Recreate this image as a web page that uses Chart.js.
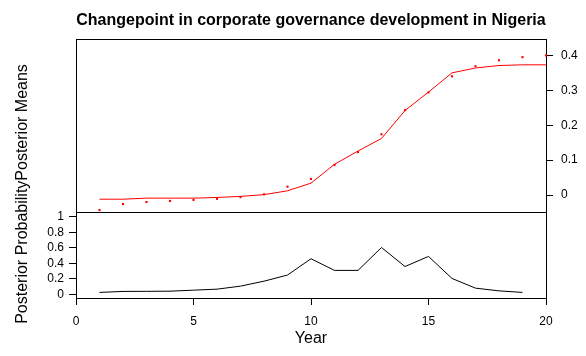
<!DOCTYPE html>
<html>
<head>
<meta charset="utf-8">
<script src="https://cdn.jsdelivr.net/npm/chart.js@4.4.1/dist/chart.umd.min.js"></script>
<style>
  html, body { margin: 0; padding: 0; background: #fff; }
  #wrap { position: relative; width: 586px; height: 356px; overflow: hidden; }
  canvas { position: absolute; left: 0; top: 0; }
  #ylab { position: absolute; width: 300px; height: 16px; line-height: 16px; left: -129.5px; top: 185.5px;
          transform: rotate(-90deg); text-align: center; font: 16px "Liberation Sans", Arial, sans-serif; color: #000; white-space: nowrap; }
</style>
</head>
<body>
<div id="wrap">
  <canvas id="low" width="586" height="356"></canvas>
  <canvas id="up" width="586" height="356"></canvas>
  <div id="ylab">Posterior ProbabilityPosterior Means</div>
</div>
<script>
const years = [1,2,3,4,5,6,7,8,9,10,11,12,13,14,15,16,17,18,19,20];
const observed = [-0.043,-0.026,-0.020,-0.017,-0.014,-0.011,-0.006,0.002,0.024,0.046,0.086,0.123,0.174,0.243,0.294,0.340,0.369,0.386,0.395,0.400];
const postMeans = [-0.012,-0.012,-0.009,-0.009,-0.009,-0.007,-0.004,0.001,0.012,0.034,0.088,0.126,0.162,0.242,0.295,0.350,0.364,0.371,0.373,0.373];
const probYears = [1,2,3,4,5,6,7,8,9,10,11,12,13,14,15,16,17,18,19];
const postProb = [0.026,0.039,0.040,0.042,0.055,0.068,0.107,0.171,0.250,0.460,0.310,0.310,0.605,0.360,0.490,0.206,0.081,0.046,0.026];
const xTicks = [0,5,10,15,20];
const xTickLabels = ['0','5','10','15','20'];
const meanTicks = [0,0.1,0.2,0.3,0.4];
const meanTickLabels = ['0','0.1','0.2','0.3','0.4'];
const probTicks = [0,0.2,0.4,0.6,0.8,1];
const probTickLabels = ['0','0.2','0.4','0.6','0.8','1'];

const FONT = '"Liberation Sans", Arial, sans-serif';
Chart.defaults.font.family = FONT;
Chart.defaults.color = '#000';

const boxPlugin = {
  id: 'box',
  beforeDatasetsDraw(chart) {
    const {ctx, chartArea: a} = chart;
    ctx.save();
    ctx.strokeStyle = '#000';
    ctx.lineWidth = 1;
    ctx.strokeRect(Math.round(a.left) + 0.5, Math.round(a.top) + 0.5,
                   Math.round(a.right - a.left), Math.round(a.bottom - a.top));
    ctx.restore();
  }
};

const pts = (xs, ys) => xs.map((x, i) => ({x, y: ys[i]}));
const tickGrid = { display: true, drawOnChartArea: false, drawTicks: true, tickLength: 7, color: '#000', lineWidth: 1 };
const labelFrom = (vals, labels) => (v) => { const i = vals.findIndex(t => Math.abs(t - v) < 1e-9); return i >= 0 ? labels[i] : ''; };

new Chart(document.getElementById('up'), {
  type: 'line',
  data: {
    datasets: [
      { data: pts(years, postMeans), borderColor: '#ff0000', borderWidth: 1, pointRadius: 0, tension: 0, fill: false },
      { data: pts(years, observed), showLine: false, pointStyle: 'rect', pointRadius: 1.5, pointBorderWidth: 0, clip: false,
        pointBackgroundColor: '#ff0000', borderColor: '#ff0000', backgroundColor: '#ff0000' }
    ]
  },
  options: {
    responsive: false, animation: false, devicePixelRatio: 1,
    layout: { padding: { left: 76, top: 0, right: 0, bottom: 144 } },
    plugins: {
      legend: { display: false }, tooltip: { enabled: false },
      title: { display: true, fullSize: false, text: 'Changepoint in corporate governance development in Nigeria',
               font: { size: 16, weight: 'bold', family: FONT, lineHeight: 1.2 }, color: '#000',
               padding: { top: 11.4, bottom: 8.4 } }
    },
    scales: {
      x: { type: 'linear', min: 0, max: 20, display: false },
      y: {
        type: 'linear', position: 'right', min: -0.0487, max: 0.447,
        afterBuildTicks: s => { s.ticks = meanTicks.map(v => ({value: v})); },
        afterFit: s => { s.width = 40; },
        grid: tickGrid, border: { display: false },
        ticks: { font: { size: 12 }, padding: 8, color: '#000', autoSkip: false, callback: labelFrom(meanTicks, meanTickLabels) }
      }
    }
  },
  plugins: [boxPlugin]
});

new Chart(document.getElementById('low'), {
  type: 'line',
  data: {
    datasets: [
      { data: pts(probYears, postProb), borderColor: '#000', borderWidth: 1, pointRadius: 0, tension: 0, fill: false }
    ]
  },
  options: {
    responsive: false, animation: false, devicePixelRatio: 1,
    layout: { padding: { left: 0, top: 212, right: 40, bottom: 0 } },
    plugins: { legend: { display: false }, tooltip: { enabled: false } },
    scales: {
      x: {
        type: 'linear', min: 0, max: 20,
        afterBuildTicks: s => { s.ticks = xTicks.map(v => ({value: v})); },
        afterFit: s => { s.height = 58; },
        grid: tickGrid, border: { display: false },
        ticks: { font: { size: 12 }, padding: 9, color: '#000', maxRotation: 0, autoSkip: false, callback: labelFrom(xTicks, xTickLabels) },
        title: { display: true, text: 'Year', font: { size: 16, family: FONT, lineHeight: 1.2 }, color: '#000',
                 padding: { top: 0, bottom: 8.1 } }
      },
      y: {
        type: 'linear', position: 'left', min: -0.046, max: 1.063,
        afterBuildTicks: s => { s.ticks = probTicks.map(v => ({value: v})); },
        afterFit: s => { s.width = 76; },
        grid: tickGrid, border: { display: false },
        ticks: { font: { size: 12 }, padding: 5, color: '#000', autoSkip: false, callback: labelFrom(probTicks, probTickLabels) }
      }
    }
  },
  plugins: [boxPlugin]
});
</script>
</body>
</html>
